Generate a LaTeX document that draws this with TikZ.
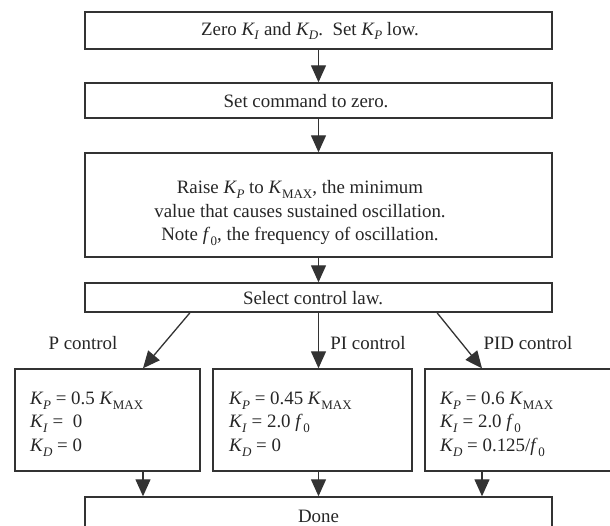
\documentclass[tikz,border=0pt]{standalone}
\usepackage{fontspec}
\setmainfont{Liberation Serif}
\usetikzlibrary{arrows.meta}
\newcommand{\sbx}[1]{\raisebox{-0.26em}{\fontsize{13}{13}\selectfont #1}}
\newcommand{\Kv}[1]{\textit{K}\kern-0.5pt\sbx{\textit{#1}}}
\newcommand{\KMAX}{\textit{K}\sbx{MAX}}
\newcommand{\fz}{\textit{f}\kern0.5pt\sbx{0}}
\begin{document}
\begin{tikzpicture}[x=1pt,y=-1pt,
  box/.style={draw=black!80, line width=1.4pt, rectangle, inner sep=0pt},
  txt/.style={font=\fontsize{18.9}{23.5}\selectfont, inner sep=0pt, text=black!85},
  arr/.style={draw=black!80, line width=1.3pt, -{Triangle[width=15pt,length=17pt]}}]
\clip (0,0) rectangle (610,526);
\useasboundingbox (0,0) rectangle (610,526);
\fill[white] (0,0) rectangle (610,526);

\node[box, minimum width=467pt, minimum height=37pt] (b1) at (318.5,30.5) {};
\node[txt] (t1) at (310,31) {Zero \Kv{I} and \Kv{D}.\ \ Set \Kv{P} low.};

\node[box, minimum width=467pt, minimum height=35pt] (b2) at (318.5,100.5) {};
\node[txt] (t2) at (306,101) {Set command to zero.};

\node[box, minimum width=467pt, minimum height=104pt] (b3) at (318.5,205) {};
\node[txt, align=center] (t3) at (300,213) {Raise \Kv{P} to \KMAX, the minimum\\value that causes sustained oscillation.\\Note \fz, the frequency of oscillation.};

\node[box, minimum width=467pt, minimum height=29pt] (b4) at (318.5,297.5) {};
\node[txt] (t4) at (313,298) {Select control law.};

\node[box, minimum width=185pt, minimum height=102pt] (lb) at (107.5,420) {};
\node[box, minimum width=199pt, minimum height=102pt] (mb) at (312.5,420) {};
\node[box, minimum width=187pt, minimum height=102pt] (rb) at (518.5,420) {};

\node[txt, align=left, anchor=west] (lt) at (30,424) {\Kv{P} = 0.5 \KMAX\\\Kv{I} =\ \ 0\\\Kv{D} = 0};
\node[txt, align=left, anchor=west] (mt) at (229,424) {\Kv{P} = 0.45 \KMAX\\\Kv{I} = 2.0 \fz\\\Kv{D} = 0};
\node[txt, align=left, anchor=west] (rt) at (440,424) {\Kv{P} = 0.6 \KMAX\\\Kv{I} = 2.0 \fz\\\Kv{D} = 0.125/\fz};

\node[box, minimum width=467pt, minimum height=48pt] (done) at (318.5,521) {};
\node[txt] (td) at (318.5,516) {Done};

\node[txt] (pl) at (83,343) {P control};
\node[txt] (pil) at (368,343) {PI control};
\node[txt] (pidl) at (528,343) {PID control};

\draw[arr] (b1.south) -- (b2.north);
\draw[arr] (b2.south) -- (b3.north);
\draw[arr] (b3.south) -- (b4.north);
\draw[arr] ([xshift=-128.5pt]b4.south) -- ([xshift=35.5pt]lb.north);
\draw[arr] (b4.south) -- ([xshift=6pt]mb.north);
\draw[arr] ([xshift=118.5pt]b4.south) -- ([xshift=-36.5pt]rb.north);
\draw[arr] ([xshift=35.5pt]lb.south) -- ([xshift=-175.5pt]done.north);
\draw[arr] ([xshift=6pt]mb.south) -- (done.north);
\draw[arr] ([xshift=-36.5pt]rb.south) -- ([xshift=163.5pt]done.north);
\end{tikzpicture}
\end{document}
